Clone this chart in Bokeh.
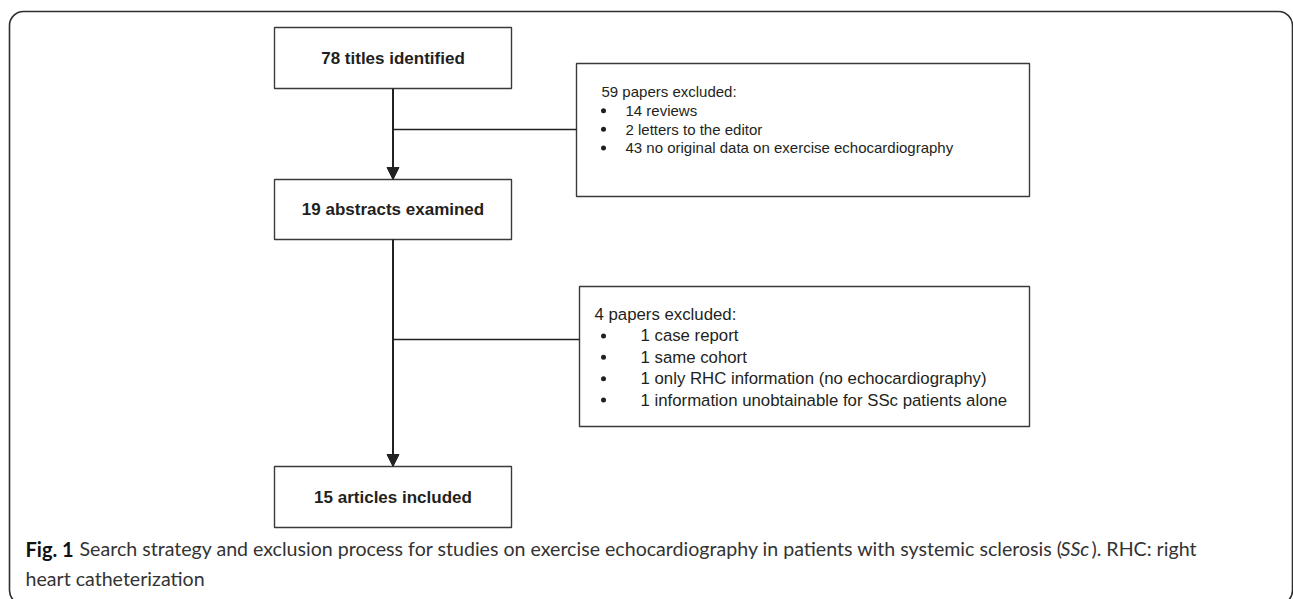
from bokeh.plotting import figure
from bokeh.models import Range1d, BoxAnnotation, Arrow, NormalHead
from bokeh.core.properties import value
from bokeh.embed import file_html
from bokeh.resources import INLINE

# ---- data ----
stage_counts = [78, 19, 15]
stage_names = ["titles identified", "abstracts examined", "articles included"]
excl1_header = "59 papers excluded:"
excl1_items = ["14 reviews", "2 letters to the editor",
               "43 no original data on exercise echocardiography"]
excl2_header = "4 papers excluded:"
excl2_items = ["1 case report", "1 same cohort",
               "1 only RHC information (no echocardiography)",
               "1 information unobtainable for SSc patients alone"]
caption_bold = "Fig. 1"
caption_a = "Search strategy and exclusion process for studies on exercise echocardiography in patients with systemic sclerosis ("
caption_italic = "SSc"
caption_c = "). RHC: right"
caption_line2 = "heart catheterization"

# ---- layout (screen pixel coordinates) ----
W, H = 1293, 599
p = figure(width=W, height=H, x_range=Range1d(0, W), y_range=Range1d(H, 0),
           output_backend="svg", toolbar_location=None, min_border=0)
p.axis.visible = False
p.grid.visible = False
p.outline_line_color = None
p.background_fill_color = "white"
p.border_fill_color = "white"

LINE = "#3a3a3a"
TXT = "#231f20"
BOXFONT = value("Liberation Sans")

# outer rounded frame
p.add_layout(BoxAnnotation(left=9, right=1292, top=11, bottom=604, border_radius=14,
                           fill_alpha=0, line_color="#2e2e2e", line_alpha=1.0,
                           line_width=1.6))

# main stage boxes
sx0, sx1 = 274, 511
cx = (sx0 + sx1) / 2
tops = [27, 179, 466]
bots = [88, 239, 527]
p.quad(left=[sx0] * 3, right=[sx1] * 3, top=tops, bottom=bots,
       fill_color="white", line_color=LINE, line_width=1.4)
p.text(x=[cx] * 3, y=[(t + b) / 2 for t, b in zip(tops, bots)],
       text=[f"{c} {n}" for c, n in zip(stage_counts, stage_names)],
       text_font=value("Liberation Sans"), text_font_style="bold", text_font_size="17px",
       text_align="center", text_baseline="middle", text_color=TXT)

# arrows between stages
for i in range(2):
    p.add_layout(Arrow(x_start=cx, y_start=bots[i], x_end=cx, y_end=tops[i + 1],
                       line_color="#222222", line_width=2,
                       end=NormalHead(size=12, fill_color="#222222", line_color="#222222")))

# exclusion boxes
ex = [(576, 1029, 63, 196, 129), (579, 1029, 286, 426, 339)]
p.quad(left=[e[0] for e in ex], right=[e[1] for e in ex], top=[e[2] for e in ex],
       bottom=[e[3] for e in ex], fill_color="white", line_color=LINE, line_width=1.4)
p.segment(x0=[cx, cx], y0=[e[4] for e in ex], x1=[e[0] for e in ex], y1=[e[4] for e in ex],
          line_color="#222222", line_width=1.6)

# box 1 text
y1 = [110.2, 128.8, 147.4]
p.text(x=[601], y=[91], text=[excl1_header], text_font=BOXFONT, text_font_size="15px",
       text_baseline="middle", text_color=TXT)
p.text(x=[625] * 3, y=y1, text=excl1_items, text_font=BOXFONT, text_font_size="15px",
       text_baseline="middle", text_color=TXT)
p.scatter(x=[603] * 3, y=y1, size=5, marker="circle", fill_color=TXT, line_color=None)

# box 2 text
y2 = [335.4, 356.8, 378.2, 399.6]
p.text(x=[594], y=[314], text=[excl2_header], text_font=BOXFONT, text_font_size="16.8px",
       text_baseline="middle", text_color=TXT)
p.text(x=[640] * 4, y=y2, text=excl2_items, text_font=BOXFONT, text_font_size="16.8px",
       text_baseline="middle", text_color=TXT)
p.scatter(x=[603] * 4, y=y2, size=5, marker="circle", fill_color=TXT, line_color=None)

# caption
CAPF = value("Lato")
CS = "19.6px"
CCOL = "#333333"
p.text(x=[25], y=[548], text=[caption_bold], text_font=CAPF, text_font_style="bold",
       text_font_size="20px", text_baseline="middle", text_color="#111111")
p.text(x=[79], y=[548], text=[caption_a], text_font=CAPF, text_font_size=CS,
       text_baseline="middle", text_color=CCOL)
p.text(x=[1060], y=[548], text=[caption_italic], text_font=CAPF, text_font_style="italic",
       text_font_size=CS, text_baseline="middle", text_color=CCOL)
p.text(x=[1091], y=[548], text=[caption_c], text_font=CAPF, text_font_size=CS,
       text_baseline="middle", text_color=CCOL)
p.text(x=[25], y=[578], text=[caption_line2], text_font=CAPF, text_font_size=CS,
       text_baseline="middle", text_color=CCOL)

open("out.html", "w").write(file_html(p, INLINE))
